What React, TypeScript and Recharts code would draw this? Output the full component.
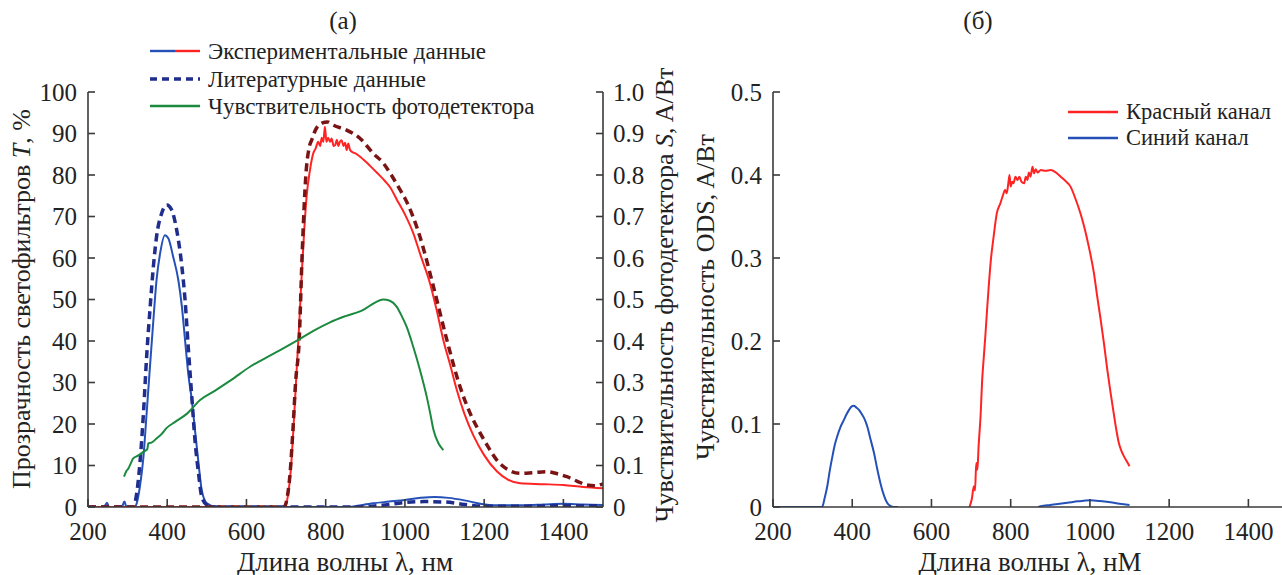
import React from 'react';
import { LineChart, Line, XAxis, YAxis } from 'recharts';

const FONT = "'Liberation Serif', 'Times New Roman', Times, serif";
const AXIS = '#3a3a3a';
const TEXT = '#222';
const TICK_FS = 25;

// ---------- Panel (a): filter transmission T, % and photodetector sensitivity S, A/W ----------
const blueExpLambda = [200, 240, 248, 253, 285, 292, 297, 318, 323, 331, 340, 348, 357, 365, 373, 382, 394, 403, 415, 428, 437, 445, 453, 462, 470, 479, 487, 500, 525, 700, 860, 880, 920, 960, 1000, 1040, 1075, 1110, 1150, 1190, 1230, 1300, 1350, 1400, 1450, 1500];
const blueExpT = [0, 0, 1.0, 0, 0, 1.3, 0, 0, 0.9, 4.9, 12.1, 22.6, 34.6, 45, 54.7, 61.1, 65.5, 64.7, 60.3, 54.7, 48.3, 40.2, 32.2, 25.8, 18.6, 10.5, 4.1, 0.9, 0, 0, 0, 0.3, 0.9, 1.3, 1.7, 2.2, 2.4, 2.2, 1.6, 0.8, 0.4, 0.4, 0.6, 0.8, 0.6, 0.5];

const blueLitLambda = [200, 314, 323, 331, 340, 348, 357, 365, 373, 386, 399, 411, 424, 437, 445, 453, 462, 470, 479, 487, 500, 520, 880, 950, 1000, 1050, 1100, 1150, 1200, 1300, 1400, 1500];
const blueLitT = [0, 0, 3.3, 10.5, 22.6, 36.2, 48.3, 57.9, 65.1, 70.8, 72.8, 71.6, 66.7, 57.9, 49.9, 38.6, 26.6, 16.1, 8.1, 2.5, 0.5, 0, 0, 0.5, 1.1, 1.3, 1.2, 0.6, 0.2, 0.2, 0.3, 0.3];

const redExpLambda = [200, 690, 697, 705, 712, 718, 725, 732, 740, 746, 752, 760, 768, 775, 781, 786, 790, 794, 798, 802, 806, 811, 815, 820, 824, 828, 832, 836, 840, 845, 849, 853, 857, 861, 866, 875, 887, 900, 912, 930, 950, 963, 980, 1000, 1021, 1040, 1063, 1080, 1097, 1115, 1131, 1150, 1173, 1200, 1232, 1260, 1291, 1350, 1400, 1450, 1500];
const redExpT = [0, 0, 0, 3, 9, 18, 30, 42, 57, 67, 75, 81, 85, 86.5, 88, 87, 89, 88, 91.6, 88, 89, 88, 88.8, 87, 87.2, 88.5, 87, 88, 88.4, 87, 87.8, 86, 87.6, 86.2, 85.6, 85.2, 84.4, 83.3, 82.2, 80.5, 78.5, 77, 74, 70.5, 66, 60.5, 54, 47.5, 40.2, 34, 28.2, 22.5, 17.2, 12.5, 8.6, 6.6, 5.7, 5.5, 5.3, 4.8, 4.5];

const redLitLambda = [200, 695, 703, 710, 717, 724, 733, 741, 750, 758, 765, 775, 790, 805, 820, 853, 887, 920, 946, 963, 988, 1000, 1038, 1072, 1106, 1139, 1165, 1190, 1210, 1232, 1260, 1291, 1325, 1358, 1385, 1409, 1435, 1459, 1480, 1500];
const redLitT = [0, 0, 2.4, 8, 18, 30, 40, 62, 80, 86.5, 88.5, 91, 92.5, 92.8, 92, 90.8, 88.8, 85.2, 82.8, 80.4, 76.4, 74.4, 65.1, 53.1, 40.2, 29, 22.5, 17.8, 14.5, 11.3, 9, 8.1, 8.3, 8.5, 8, 7.3, 6.2, 5.3, 5.1, 5.6];

const detLambda = [291, 296, 302, 308, 314, 325, 340, 350, 352, 360, 373, 385, 398, 420, 450, 483, 520, 560, 609, 650, 685, 735, 770, 811, 850, 895, 920, 945, 962, 979, 992, 1004, 1021, 1038, 1055, 1064, 1072, 1085, 1097];
const detS = [0.073, 0.085, 0.093, 0.105, 0.117, 0.123, 0.133, 0.14, 0.153, 0.155, 0.165, 0.175, 0.19, 0.205, 0.225, 0.258, 0.28, 0.305, 0.338, 0.36, 0.378, 0.405, 0.425, 0.445, 0.46, 0.475, 0.49, 0.5, 0.497, 0.483, 0.46, 0.435, 0.386, 0.33, 0.266, 0.225, 0.186, 0.153, 0.137];

// ---------- Panel (б): ODS channel sensitivity, A/W ----------
const redChLambda = [696, 702, 707, 710, 713, 716, 719, 724, 728, 732, 736, 740, 744, 750, 757, 765, 774, 780, 786, 790, 794, 797, 800, 804, 807, 812, 817, 822, 827, 834, 838, 842, 846, 850, 855, 859, 863, 868, 876, 888, 901, 914, 926, 940, 951, 963, 976, 987, 997, 1010, 1018, 1027, 1036, 1044, 1052, 1060, 1067, 1073, 1080, 1086, 1093, 1100];
const redChS = [0, 0.01, 0.025, 0.02, 0.053, 0.045, 0.073, 0.11, 0.153, 0.18, 0.206, 0.235, 0.262, 0.298, 0.326, 0.354, 0.366, 0.375, 0.382, 0.378, 0.39, 0.4, 0.386, 0.392, 0.39, 0.398, 0.394, 0.398, 0.392, 0.39, 0.398, 0.394, 0.403, 0.398, 0.41, 0.402, 0.407, 0.403, 0.406, 0.405, 0.406, 0.403, 0.398, 0.392, 0.386, 0.372, 0.354, 0.335, 0.314, 0.282, 0.255, 0.226, 0.195, 0.165, 0.138, 0.113, 0.092, 0.077, 0.067, 0.061, 0.055, 0.049];

const blueChLambda = [200, 324, 330, 337, 343, 350, 356, 362, 370, 379, 386, 392, 398, 404, 410, 417, 424, 430, 438, 446, 455, 463, 471, 480, 488, 497, 505, 515, 700, 870, 876, 900, 943, 970, 1000, 1025, 1052, 1075, 1100];
const blueChS: (number | null)[] = [0, 0, 0.01, 0.025, 0.043, 0.061, 0.075, 0.085, 0.096, 0.105, 0.112, 0.117, 0.121, 0.122, 0.12, 0.117, 0.112, 0.107, 0.097, 0.082, 0.065, 0.046, 0.029, 0.014, 0.005, 0.001, 0, 0, null, 0, 0.001, 0.0025, 0.005, 0.0068, 0.008, 0.0072, 0.0056, 0.0038, 0.0024];

// ---------- Axis ticks ----------
const xTicks = [200, 400, 600, 800, 1000, 1200, 1400];
const tTicks = [0, 10, 20, 30, 40, 50, 60, 70, 80, 90, 100];
const sTicks = [0, 0.1, 0.2, 0.3, 0.4, 0.5, 0.6, 0.7, 0.8, 0.9, 1.0];
const odsTicks = [0, 0.1, 0.2, 0.3, 0.4, 0.5];

const zip = (xs: number[], ys: (number | null)[]) => xs.map((x, i) => ({ x, y: ys[i] }));

const fmtS = (v: number) => (v === 0 ? '0' : v.toFixed(1));

// Plot area geometry (chart coordinates)
const TOP = 92;
const BOTTOM = 507;
const LEFT_W = 88;

const XTick = (props: any) => {
  const { x, payload } = props;
  return (
    <g>
      <line x1={x} x2={x} y1={BOTTOM} y2={BOTTOM - 8} stroke={AXIS} strokeWidth={1.6} />
      <text x={x} y={BOTTOM + 33} textAnchor="middle" fontSize={TICK_FS} fontFamily={FONT} fill={TEXT}>
        {payload.value}
      </text>
    </g>
  );
};

const makeLeftTick = (fmt: (v: number) => string) => (props: any) => {
  const { y, payload } = props;
  return (
    <g>
      <line x1={LEFT_W} x2={LEFT_W + 7} y1={y} y2={y} stroke={AXIS} strokeWidth={1.6} />
      <text x={LEFT_W - 11} y={y + 8.5} textAnchor="end" fontSize={TICK_FS} fontFamily={FONT} fill={TEXT}>
        {fmt(payload.value)}
      </text>
    </g>
  );
};

const makeRightTick = (axisX: number, fmt: (v: number) => string) => (props: any) => {
  const { y, payload } = props;
  return (
    <g>
      <line x1={axisX} x2={axisX - 7} y1={y} y2={y} stroke={AXIS} strokeWidth={1.6} />
      <text x={axisX + 10} y={y + 8.5} textAnchor="start" fontSize={TICK_FS} fontFamily={FONT} fill={TEXT}>
        {fmt(payload.value)}
      </text>
    </g>
  );
};

const axisLine = { stroke: AXIS, strokeWidth: 1.6 };

const BLUE = '#2450b8';
const NAVY = '#1f2d8c';
const RED = '#ff2424';
const DARK_RED = '#7a1414';
const GREEN = '#1b8a3e';

const txt = (extra: React.CSSProperties): React.CSSProperties => ({
  position: 'absolute',
  fontFamily: FONT,
  color: TEXT,
  whiteSpace: 'nowrap',
  lineHeight: 1,
  ...extra,
});

const centered = (cx: number, cy: number, size: number): React.CSSProperties =>
  txt({ left: cx, top: cy, fontSize: size, transform: 'translate(-50%, -50%)' });

const rotated = (cx: number, cy: number, size: number): React.CSSProperties =>
  txt({ left: cx, top: cy, fontSize: size, transform: 'translate(-50%, -50%) rotate(-90deg)' });

type LegendItem = { label: string; colors: string[]; dash?: string; width: number };

const legendA: LegendItem[] = [
  { label: 'Экспериментальные данные', colors: [BLUE, RED], width: 2.4 },
  { label: 'Литературные данные', colors: [NAVY], dash: '7 5', width: 3.5 },
  { label: 'Чувствительность фотодетектора', colors: [GREEN], width: 2.4 },
];
const legendB: LegendItem[] = [
  { label: 'Красный канал', colors: [RED], width: 2.4 },
  { label: 'Синий канал', colors: [BLUE], width: 2.4 },
];

const LegendBlock = ({ items, left, top, step, lineW, gap, size }: { items: LegendItem[]; left: number; top: number; step: number; lineW: number; gap: number; size: number }) => (
  <>
    {items.map((it, i) => {
      const cy = top + i * step;
      const seg = lineW / it.colors.length;
      return (
        <div key={it.label}>
          <svg style={{ position: 'absolute', left, top: cy - 4 }} width={lineW} height={8}>
            {it.colors.map((c, k) => (
              <line key={k} x1={k * seg} x2={(k + 1) * seg} y1={4} y2={4} stroke={c} strokeWidth={it.width} strokeDasharray={it.dash} />
            ))}
          </svg>
          <div style={txt({ left: left + lineW + gap, top: cy, fontSize: size, transform: 'translateY(-50%)' })}>{it.label}</div>
        </div>
      );
    })}
  </>
);

export default function App() {
  return (
    <div style={{ position: 'absolute', left: 0, top: 0, width: 1282, height: 575, overflow: 'hidden', background: '#fff' }}>
      {/* Panel (a) */}
      <div style={{ position: 'absolute', left: 0, top: 0 }}>
        <LineChart width={680} height={575} margin={{ top: TOP, right: 0, bottom: 0, left: 0 }}>
          <XAxis
            dataKey="x"
            type="number"
            domain={[200, 1500]}
            ticks={xTicks}
            interval={0}
            height={68}
            tickSize={0}
            tickLine={false}
            axisLine={axisLine}
            tick={XTick}
            allowDataOverflow
          />
          <YAxis
            yAxisId="T"
            orientation="left"
            width={LEFT_W}
            domain={[0, 100]}
            ticks={tTicks}
            interval={0}
            tickSize={0}
            tickLine={false}
            axisLine={axisLine}
            tick={makeLeftTick((v) => String(v))}
            allowDataOverflow
          />
          <YAxis
            yAxisId="S"
            orientation="right"
            width={77}
            domain={[0, 1]}
            ticks={sTicks}
            interval={0}
            tickSize={0}
            tickLine={false}
            axisLine={axisLine}
            tick={makeRightTick(603, fmtS)}
            allowDataOverflow
          />
          <Line yAxisId="T" data={zip(blueExpLambda, blueExpT)} dataKey="y" type="monotone" stroke={BLUE} strokeWidth={2} dot={false} isAnimationActive={false} />
          <Line yAxisId="T" data={zip(redExpLambda, redExpT)} dataKey="y" type="monotone" stroke={RED} strokeWidth={2} dot={false} isAnimationActive={false} />
          <Line yAxisId="T" data={zip(blueLitLambda, blueLitT)} dataKey="y" type="monotone" stroke={NAVY} strokeWidth={3.5} strokeDasharray="8 5" dot={false} isAnimationActive={false} />
          <Line yAxisId="T" data={zip(redLitLambda, redLitT)} dataKey="y" type="monotone" stroke={DARK_RED} strokeWidth={3.5} strokeDasharray="8 5" dot={false} isAnimationActive={false} />
          <Line yAxisId="S" data={zip(detLambda, detS)} dataKey="y" type="monotone" stroke={GREEN} strokeWidth={2} dot={false} isAnimationActive={false} />
        </LineChart>
      </div>

      {/* Panel (б) */}
      <div style={{ position: 'absolute', left: 685, top: 0 }}>
        <LineChart width={603} height={575} margin={{ top: TOP, right: 0, bottom: 0, left: 0 }}>
          <XAxis
            dataKey="x"
            type="number"
            domain={[200, 1500]}
            ticks={xTicks}
            interval={0}
            height={68}
            tickSize={0}
            tickLine={false}
            axisLine={axisLine}
            tick={XTick}
            allowDataOverflow
          />
          <YAxis
            orientation="left"
            width={LEFT_W}
            domain={[0, 0.5]}
            ticks={odsTicks}
            interval={0}
            tickSize={0}
            tickLine={false}
            axisLine={axisLine}
            tick={makeLeftTick(fmtS)}
            allowDataOverflow
          />
          <Line data={zip(blueChLambda, blueChS)} dataKey="y" type="monotone" stroke={BLUE} strokeWidth={2} dot={false} connectNulls={false} isAnimationActive={false} />
          <Line data={zip(redChLambda, redChS)} dataKey="y" type="monotone" stroke={RED} strokeWidth={2} dot={false} isAnimationActive={false} />
        </LineChart>
      </div>

      {/* Titles */}
      <div style={centered(343, 20, 25)}>(а)</div>
      <div style={centered(978, 20, 25)}>(б)</div>

      {/* Axis titles */}
      <div style={centered(345, 562, 27)}>Длина волны λ, нм</div>
      <div style={centered(1030, 562, 27)}>Длина волны λ, нМ</div>
      <div style={rotated(22, 299, 26)}>
        Прозрачность светофильтров <i>T</i>, %
      </div>
      <div style={rotated(665, 295, 26)}>
        Чувствительность фотодетектора <i>S</i>, A/Вт
      </div>
      <div style={rotated(706, 297, 26)}>Чувствительность ODS, A/Вт</div>

      {/* Legends */}
      <LegendBlock items={legendA} left={150} top={51} step={27.5} lineW={50} gap={8} size={23} />
      <LegendBlock items={legendB} left={1068} top={111.5} step={26.5} lineW={50} gap={8} size={22.5} />
    </div>
  );
}
